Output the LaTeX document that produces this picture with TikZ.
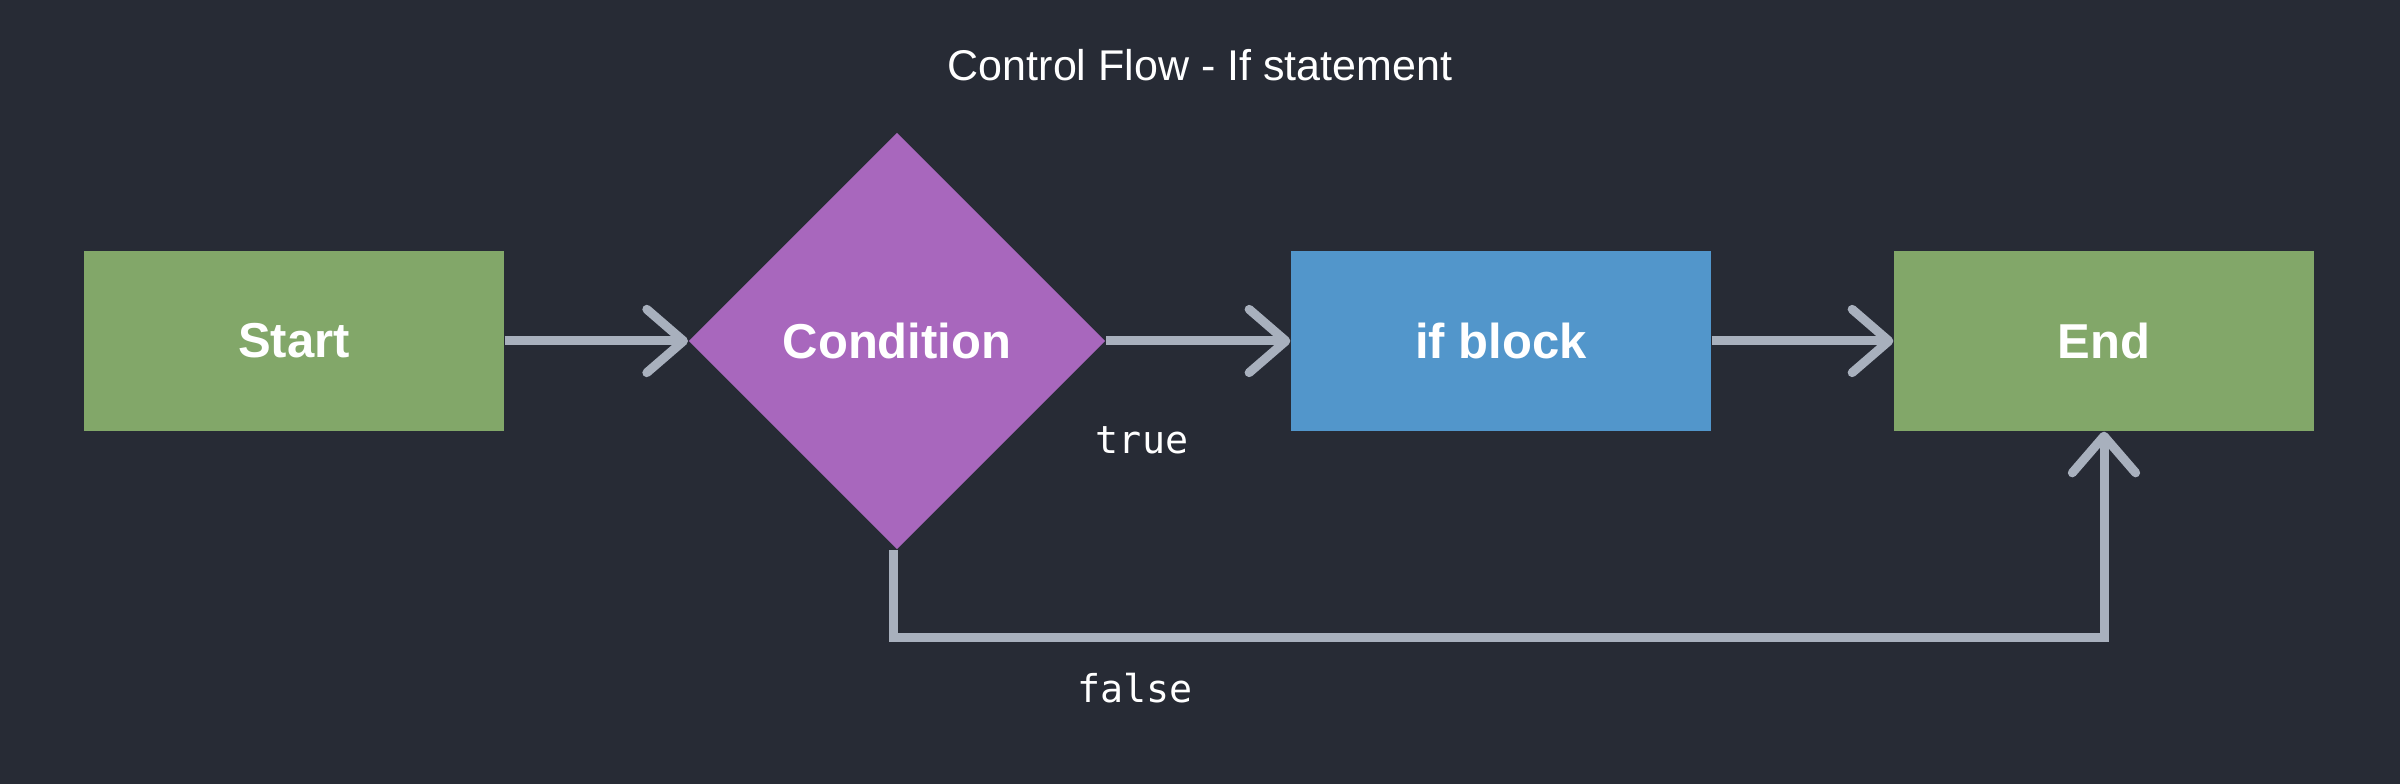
\documentclass[tikz,border=0pt]{standalone}
\usepackage{fontspec}
\setmainfont{Liberation Sans}
\setmonofont{DejaVu Sans Mono}
\usetikzlibrary{positioning, arrows.meta, shapes.geometric}

\definecolor{bgdark}{HTML}{272B35}
\definecolor{boxgreen}{HTML}{82A769}
\definecolor{boxpurple}{HTML}{A867BD}
\definecolor{boxblue}{HTML}{5296CB}
\definecolor{flowgrey}{HTML}{A8B0BD}

\begin{document}
\begin{tikzpicture}[x=0.3pt, y=-0.3pt,
	flowbox/.style={minimum width=126pt, minimum height=54pt, inner sep=0pt, text=white, font=\fontsize{14.7}{17}\selectfont\bfseries},
	flowline/.style={draw=flowgrey, line width=2.7pt},
	>={Straight Barb[length=11pt, width=19pt, round]}]
	\fill[bgdark] (0,0) rectangle (2400,784);

	\node (title) at (1200,81) [anchor=base, text=white, font=\fontsize{12.9}{15}\selectfont] {Control Flow - If statement};

	\node (start) at (294,341) [flowbox, fill=boxgreen] {Start};
	\node (cond) at (897,341) [flowbox, diamond, aspect=1, minimum width=125pt, minimum height=125pt, fill=boxpurple] {Condition};
	\node (ifblock) at (1501,341) [flowbox, fill=boxblue] {if block};
	\node (end) at (2104,341) [flowbox, fill=boxgreen] {End};
	\coordinate (falsecorner) at (893,638);

	\path (start) edge[flowline, ->] (cond.west);
	\path (cond.east) edge[flowline, ->] (ifblock);
	\path (ifblock) edge[flowline, ->] (end);
	\draw[flowline, ->] (cond.south -| falsecorner) -- (falsecorner) -| (end.south);

	\node (truelbl) at (1142,454) [anchor=base, text=white, font=\fontsize{11.5}{14}\selectfont\ttfamily] {true};
	\node (falselbl) at (1135,703) [anchor=base, text=white, font=\fontsize{11.5}{14}\selectfont\ttfamily] {false};
\end{tikzpicture}
\end{document}
